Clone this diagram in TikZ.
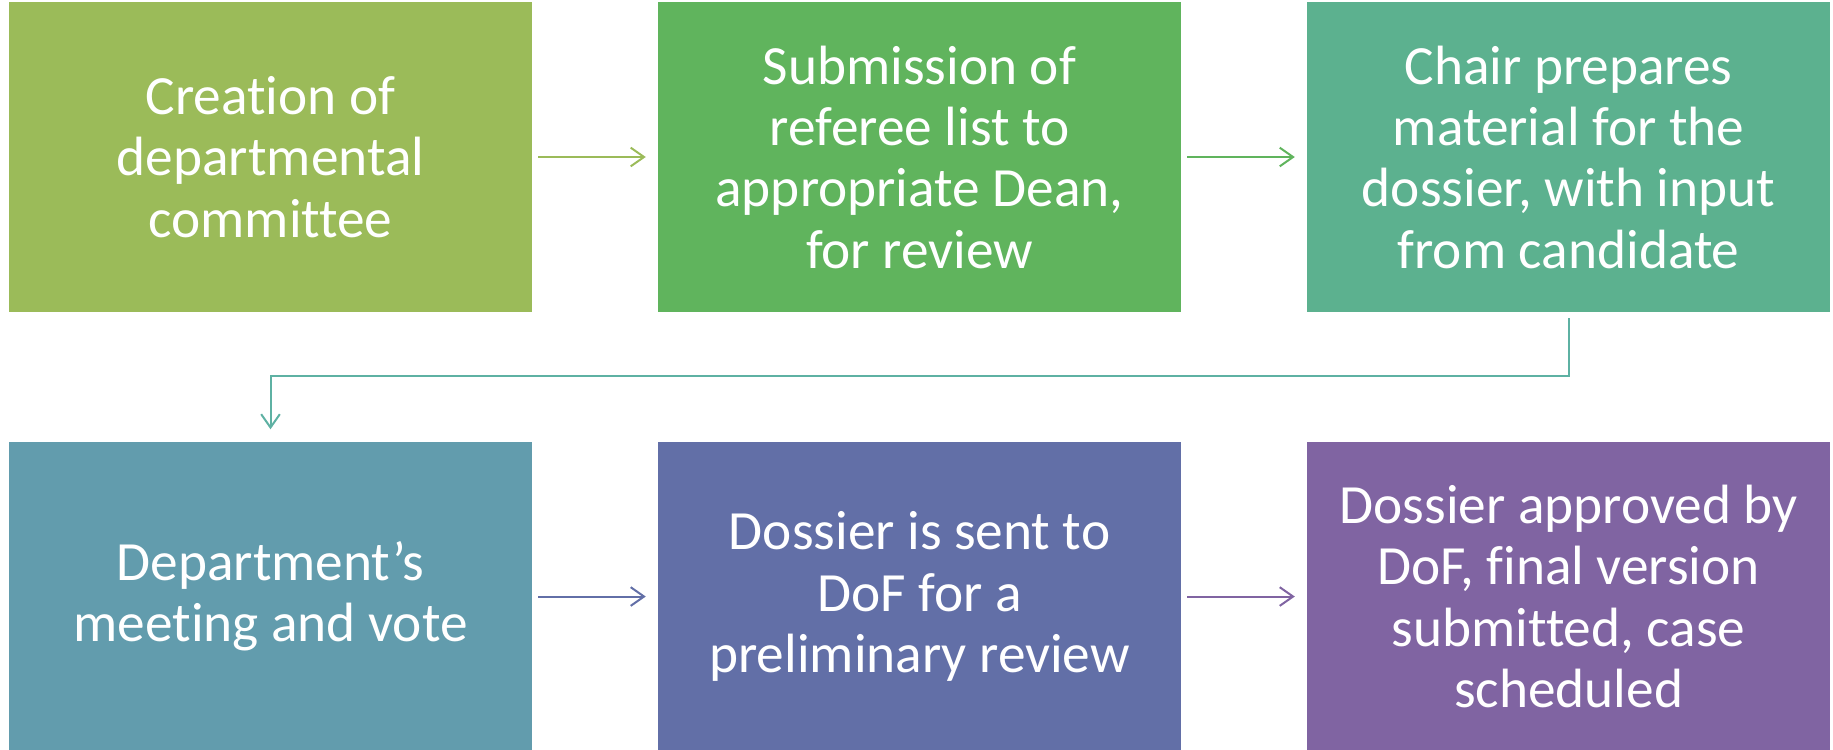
\documentclass[tikz,border=0pt]{standalone}
\usepackage{fontspec}
\setmainfont{Carlito}[Ligatures=NoCommon]
\usetikzlibrary{arrows.meta,positioning}

\definecolor{olive}{HTML}{9BBB59}
\definecolor{leaf}{HTML}{60B45D}
\definecolor{sea}{HTML}{5CB18F}
\definecolor{teal}{HTML}{629CAD}
\definecolor{indigo}{HTML}{626FA7}
\definecolor{plum}{HTML}{8064A2}
\definecolor{tealline}{HTML}{5EB1A3}

\begin{document}
\begin{tikzpicture}[>={Straight Barb[length=10pt,width=14pt]},x=0.75pt,y=-0.75pt,
                    node distance=96.75pt and 94.125pt,
                    stage/.style={rectangle,inner sep=0pt,minimum width=392.25pt,minimum height=232.5pt,
                                  align=center,text=white,font=\fontsize{41.5}{46}\selectfont},
                    flow/.style={->,line width=1.5pt,shorten <=4.5pt,shorten >=9pt}]

      \useasboundingbox (0,0) rectangle (1833,749);

      % first row
      \node[stage,fill=olive] (create) at (270.5,157) {Creation of\\departmental\\committee};
      \node[stage,fill=leaf] (submit) [right=of create] {Submission of\\referee list to\\appropriate Dean,\\for review};
      \node[stage,fill=sea] (chair) [right=of submit] {Chair prepares\\material for the\\dossier, with input\\from candidate};

      % second row
      \node[stage,fill=teal] (meeting) [below=of create] {Department’s\\meeting and vote};
      \node[stage,fill=indigo] (sent) [right=of meeting] {Dossier is sent to\\DoF for a\\preliminary review};
      \node[stage,fill=plum] (approved) [right=of sent] {Dossier approved by\\DoF, final version\\submitted, case\\scheduled};

      \draw[flow,olive] (create) -- (submit);
      \draw[flow,leaf] (submit) -- (chair);
      \draw[flow,tealline] (chair.south) -- ++(0,64) -| (meeting.north);
      \draw[flow,indigo] (meeting) -- (sent);
      \draw[flow,plum] (sent) -- (approved);
    \end{tikzpicture}
\end{document}
